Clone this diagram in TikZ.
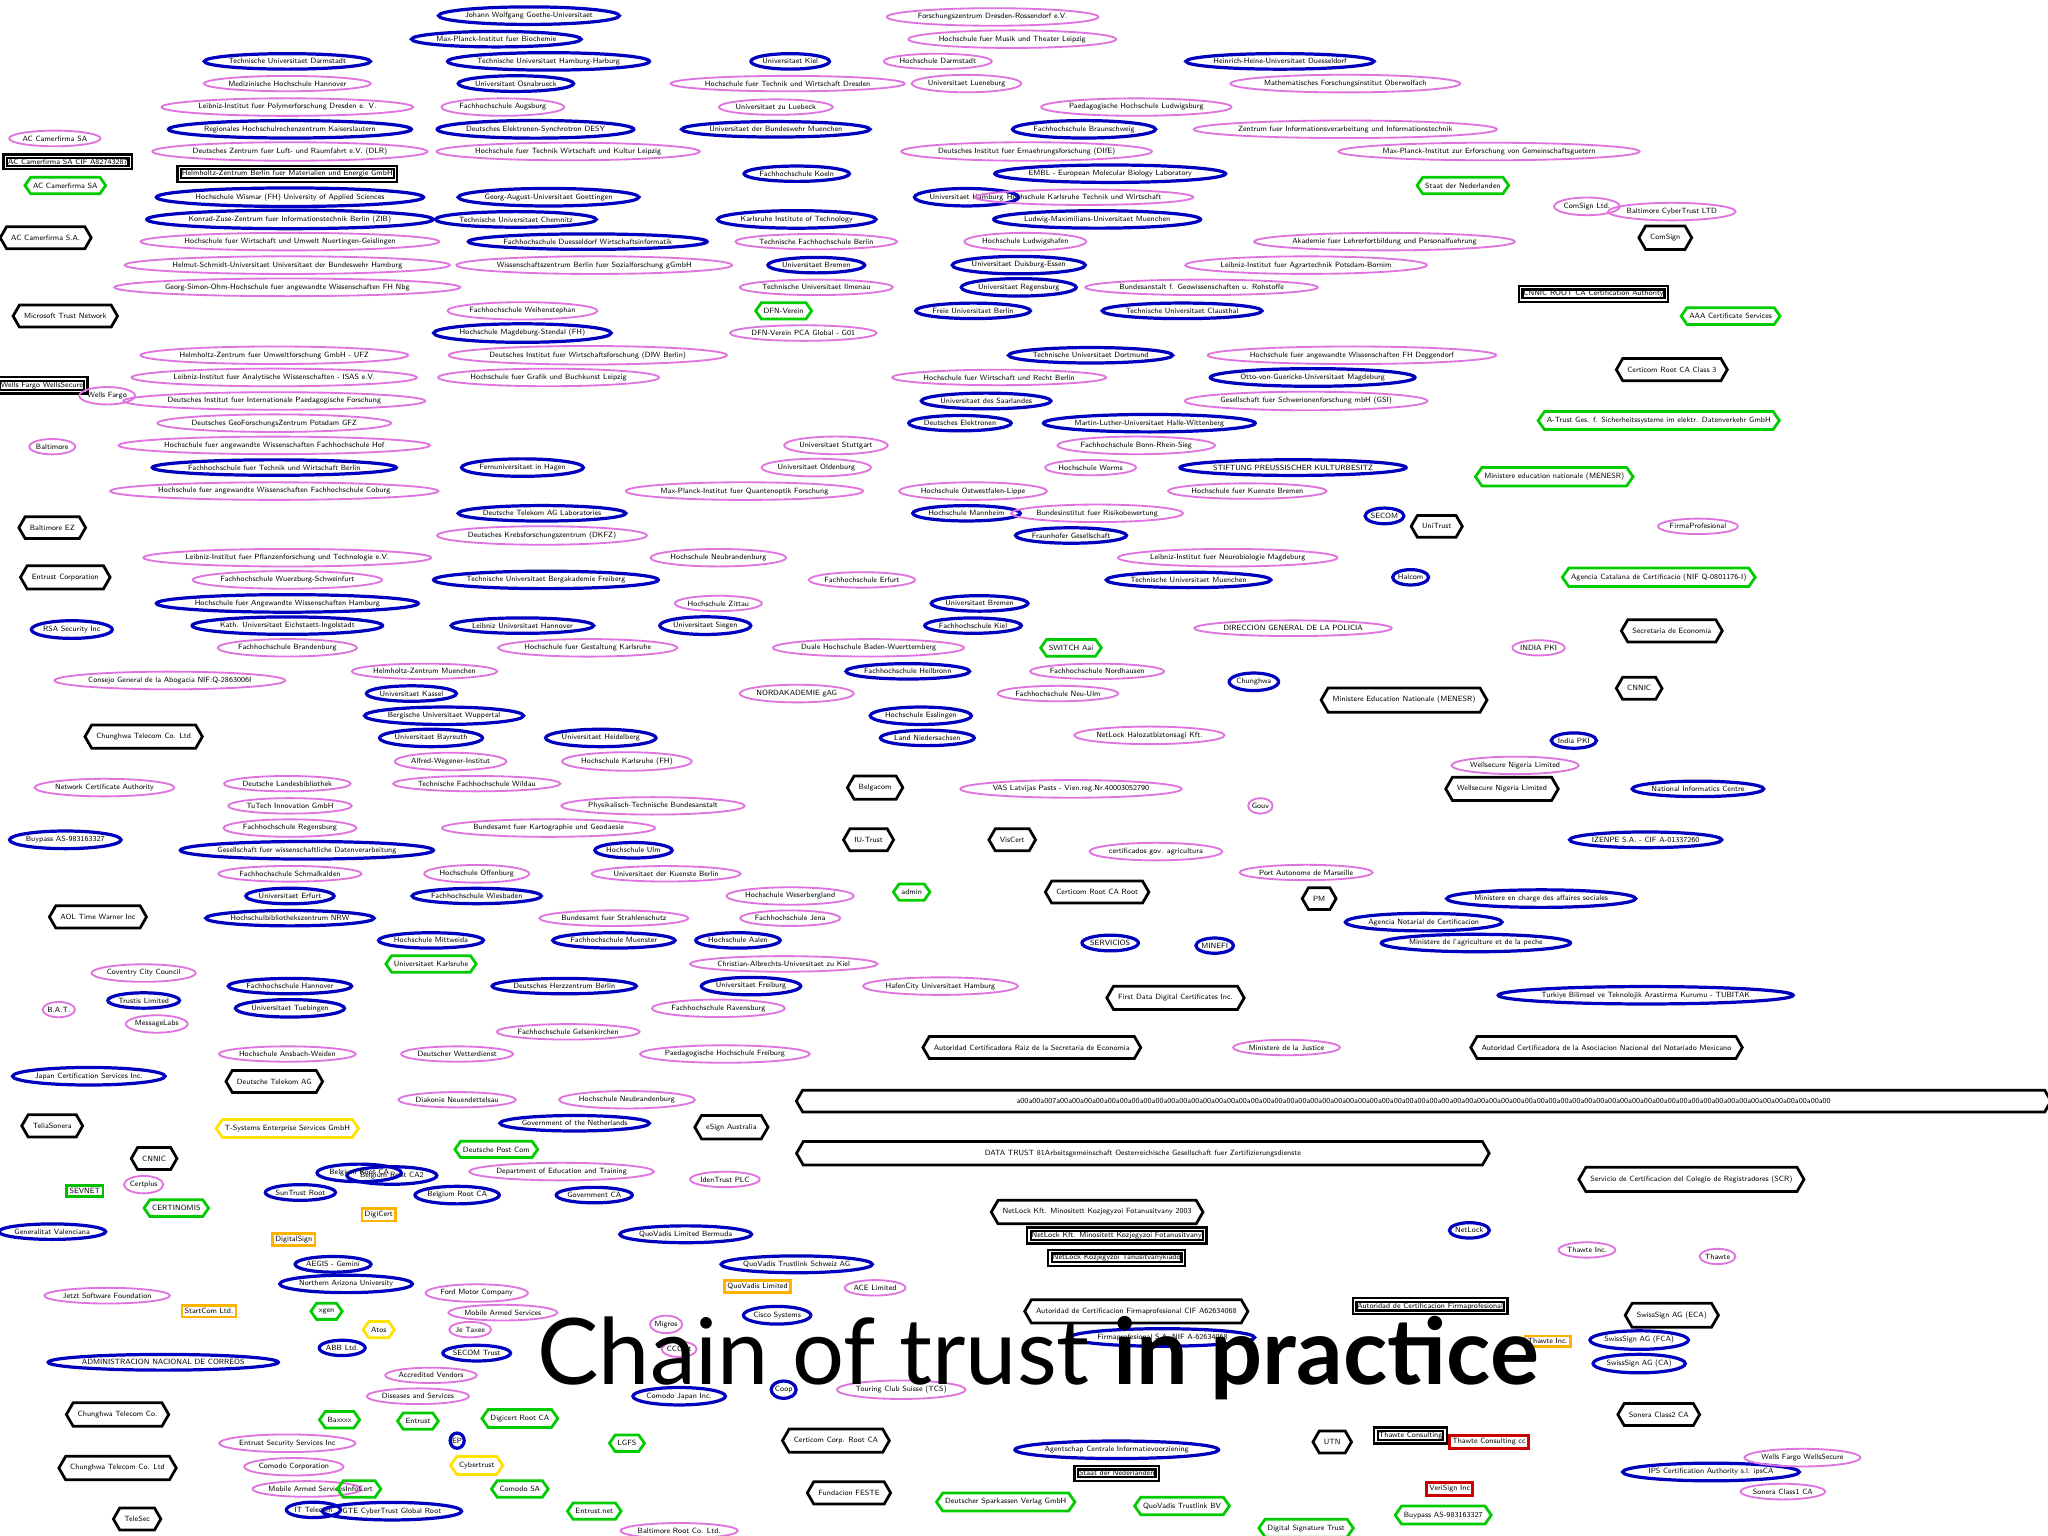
\documentclass[tikz,border=0pt]{standalone}
\usepackage{fontspec}
\newfontfamily\titlefont{Lato}
\usetikzlibrary{shapes.geometric,shapes.misc,shapes.symbols,backgrounds}
\tikzset{
 every node/.style={font=\fontsize{1.65}{2}\selectfont\sffamily, inner sep=0.6pt},
 pe/.style={ellipse, draw=violet!45!magenta!55, line width=0.4pt, inner xsep=0pt},
 be/.style={ellipse, draw=blue!75!black, line width=0.7pt, inner xsep=0pt},
 bh/.style={signal, signal to=west and east, signal pointer angle=120, draw=black, line width=0.6pt, inner ysep=1.8pt, inner xsep=1pt},
 gh/.style={signal, signal to=west and east, signal pointer angle=110, draw=green!80!black, line width=0.6pt, inner ysep=1.2pt, inner xsep=0.5pt},
 yh/.style={signal, signal to=west and east, signal pointer angle=110, draw=yellow!85!orange, line width=0.6pt, inner ysep=1.2pt, inner xsep=0.5pt},
 br/.style={rectangle, draw=black, line width=0.5pt, double, double distance=0.3pt},
 gr/.style={rectangle, draw=green!75!black, line width=0.6pt},
 yr/.style={rectangle, draw=orange!60!yellow, line width=0.6pt},
 rr/.style={rectangle, draw=red!80!black, line width=0.6pt},
 edge/.style={draw=gray!45, line width=0.4pt}
}
\begin{document}
\begin{tikzpicture}[x=0.01cm,y=-0.01cm]
\useasboundingbox (0,0) rectangle (1568,1176);
\fill[white] (0,0) rectangle (1568,1176);
\node[gh] (hub) at (600,238) {DFN-Verein};
\node[pe] (pca) at (615,255) {DFN-Verein PCA Global - G01};
\begin{pgfonlayer}{background}
\draw[edge] (hub) -- (pca);
\foreach \x in {420,480,540,560,600,640,660,700,740,800,860,900}{
 \coordinate (ray\x) at (\x,-10);
 \draw[edge] (hub) -- (ray\x);}
\end{pgfonlayer}
\foreach \x/\y/\s/\t [count=\i] in {
405/12/be/Johann Wolfgang Goethe-Universitaet, 380/30/be/Max-Planck-Institut fuer Biochemie,
220/47/be/Technische Universitaet Darmstadt, 420/47/be/Technische Universitaet Hamburg-Harburg,
605/47/be/Universitaet Kiel, 718/47/pe/Hochschule Darmstadt,
220/64/pe/Medizinische Hochschule Hannover, 395/64/be/Universitaet Osnabrueck,
603/64/pe/Hochschule fuer Technik und Wirtschaft Dresden, 220/82/pe/Leibniz-Institut fuer Polymerforschung Dresden e. V.,
385/82/pe/Fachhochschule Augsburg, 594/82/pe/Universitaet zu Luebeck,
222/99/be/Regionales Hochschulrechenzentrum Kaiserslautern, 410/99/be/Deutsches Elektronen-Synchrotron DESY,
594/99/be/Universitaet der Bundeswehr Muenchen, 830/99/be/Fachhochschule Braunschweig/Wolfenbuettel,
222/116/pe/Deutsches Zentrum fuer Luft- und Raumfahrt e.V. (DLR), 435/116/pe/Hochschule fuer Technik Wirtschaft und Kultur Leipzig,
786/116/pe/Deutsches Institut fuer Ernaehrungsforschung (DIfE), 222/151/be/Hochschule Wismar (FH) University of Applied Sciences,
420/151/be/Georg-August-Universitaet Goettingen, 610/133/be/Fachhochschule Koeln,
740/151/be/Universitaet Hamburg, 222/168/be/Konrad-Zuse-Zentrum fuer Informationstechnik Berlin (ZIB),
395/168/be/Technische Universitaet Chemnitz, 610/168/be/Karlsruhe Institute of Technology,
222/185/pe/Hochschule fuer Wirtschaft und Umwelt Nuertingen-Geislingen, 450/185/be/Fachhochschule Duesseldorf Wirtschaftsinformatik,
625/185/pe/Technische Fachhochschule Berlin, 220/203/pe/Helmut-Schmidt-Universitaet Universitaet der Bundeswehr Hamburg,
455/203/pe/Wissenschaftszentrum Berlin fuer Sozialforschung gGmbH, 625/203/be/Universitaet Bremen,
220/220/pe/Georg-Simon-Ohm-Hochschule fuer angewandte Wissenschaften FH Nbg, 625/220/pe/Technische Universitaet Ilmenau,
400/238/pe/Fachhochschule Weihenstephan, 400/255/be/Hochschule Magdeburg-Stendal (FH),
745/238/be/Freie Universitaet Berlin, 210/272/pe/Helmholtz-Zentrum fuer Umweltforschung GmbH - UFZ,
450/272/pe/Deutsches Institut fuer Wirtschaftsforschung (DIW Berlin), 210/289/pe/Leibniz-Institut fuer Analytische Wissenschaften - ISAS e.V.,
420/289/pe/Hochschule fuer Grafik und Buchkunst Leipzig, 765/289/pe/Hochschule fuer Wirtschaft und Recht Berlin,
210/307/pe/Deutsches Institut fuer Internationale Paedagogische Forschung, 755/307/be/Universitaet des Saarlandes,
210/324/pe/Deutsches GeoForschungsZentrum Potsdam GFZ, 735/324/be/Deutsches Elektronen,
210/341/pe/Hochschule fuer angewandte Wissenschaften Fachhochschule Hof, 640/341/pe/Universitaet Stuttgart,
210/358/be/Fachhochschule fuer Technik und Wirtschaft Berlin, 400/358/be/Fernuniversitaet in Hagen,
625/358/pe/Universitaet Oldenburg, 210/376/pe/Hochschule fuer angewandte Wissenschaften Fachhochschule Coburg,
570/376/pe/Max-Planck-Institut fuer Quantenoptik Forschung, 745/376/pe/Hochschule Ostwestfalen-Lippe,
415/393/be/Deutsche Telekom AG Laboratories, 740/393/be/Hochschule Mannheim,
415/410/pe/Deutsches Krebsforschungszentrum (DKFZ), 220/427/pe/Leibniz-Institut fuer Pflanzenforschung und Technologie e.V.,
550/427/pe/Hochschule Neubrandenburg, 220/444/pe/Fachhochschule Wuerzburg-Schweinfurt,
418/444/be/Technische Universitaet Bergakademie Freiberg, 660/444/pe/Fachhochschule Erfurt,
220/462/be/Hochschule fuer Angewandte Wissenschaften Hamburg, 550/462/pe/Hochschule Zittau/Goerlitz,
400/479/be/Leibniz Universitaet Hannover, 220/479/be/Kath. Universitaet Eichstaett-Ingolstadt,
540/479/be/Universitaet Siegen, 220/496/pe/Fachhochschule Brandenburg,
450/496/pe/Hochschule fuer Gestaltung Karlsruhe, 665/496/pe/Duale Hochschule Baden-Wuerttemberg,
325/514/pe/Helmholtz-Zentrum Muenchen, 695/514/be/Fachhochschule Heilbronn,
315/531/be/Universitaet Kassel, 610/531/pe/NORDAKADEMIE gAG,
340/548/be/Bergische Universitaet Wuppertal, 705/548/be/Hochschule Esslingen,
330/565/be/Universitaet Bayreuth, 460/565/be/Universitaet Heidelberg,
710/565/be/Land Niedersachsen, 345/583/pe/Alfred-Wegener-Institut,
480/583/pe/Hochschule Karlsruhe (FH), 220/600/pe/Deutsche Landesbibliothek,
365/600/pe/Technische Fachhochschule Wildau, 222/617/pe/TuTech Innovation GmbH,
500/617/pe/Physikalisch-Technische Bundesanstalt, 222/634/pe/Fachhochschule Regensburg,
420/634/pe/Bundesamt fuer Kartographie und Geodaesie, 235/651/be/Gesellschaft fuer wissenschaftliche Datenverarbeitung,
485/651/be/Hochschule Ulm, 222/669/pe/Fachhochschule Schmalkalden,
365/669/pe/Hochschule Offenburg, 510/669/pe/Universitaet der Kuenste Berlin,
222/686/be/Universitaet Erfurt, 365/686/be/Fachhochschule Wiesbaden,
605/686/pe/Hochschule Weserbergland, 222/703/be/Hochschulbibliothekszentrum NRW,
470/703/pe/Bundesamt fuer Strahlenschutz, 605/703/pe/Fachhochschule Jena,
330/720/be/Hochschule Mittweida, 470/720/be/Fachhochschule Muenster,
565/720/be/Hochschule Aalen, 330/738/gh/Universitaet Karlsruhe,
600/738/pe/Christian-Albrechts-Universitaet zu Kiel, 222/755/be/Fachhochschule Hannover,
432/755/be/Deutsches Herzzentrum Berlin, 575/755/be/Universitaet Freiburg,
222/772/be/Universitaet Tuebingen, 550/772/pe/Fachhochschule Ravensburg,
435/790/pe/Fachhochschule Gelsenkirchen, 220/807/pe/Hochschule Ansbach-Weiden,
350/807/pe/Deutscher Wetterdienst, 555/807/pe/Paedagogische Hochschule Freiburg,
350/842/pe/Diakonie Neuendettelsau, 480/842/pe/Hochschule Neubrandenburg,
720/755/pe/HafenCity Universitaet Hamburg, 780/203/be/Universitaet Duisburg-Essen,
780/220/be/Universitaet Regensburg, 785/185/pe/Hochschule Ludwigshafen,
840/168/be/Ludwig-Maximilians-Universitaet Muenchen, 830/151/pe/Hochschule Karlsruhe Technik und Wirtschaft,
850/133/be/EMBL - European Molecular Biology Laboratory, 870/82/pe/Paedagogische Hochschule Ludwigsburg,
740/64/pe/Universitaet Lueneburg, 760/13/pe/Forschungszentrum Dresden-Rossendorf e.V.,
775/30/pe/Hochschule fuer Musik und Theater Leipzig, 980/47/be/Heinrich-Heine-Universitaet Duesseldorf,
1030/64/pe/Mathematisches Forschungsinstitut Oberwolfach, 1030/99/pe/Zentrum fuer Informationsverarbeitung und Informationstechnik,
1140/116/pe/Max-Planck-Institut zur Erforschung von Gemeinschaftsguetern, 1060/185/pe/Akademie fuer Lehrerfortbildung und Personalfuehrung,
1000/203/pe/Leibniz-Institut fuer Agrartechnik Potsdam-Bornim, 920/220/pe/Bundesanstalt f. Geowissenschaften u. Rohstoffe,
905/238/be/Technische Universitaet Clausthal, 835/272/be/Technische Universitaet Dortmund,
1035/272/pe/Hochschule fuer angewandte Wissenschaften FH Deggendorf, 1005/289/be/Otto-von-Guericke-Universitaet Magdeburg,
1000/307/pe/Gesellschaft fuer Schwerionenforschung mbH (GSI), 880/324/be/Martin-Luther-Universitaet Halle-Wittenberg,
870/341/pe/Fachhochschule Bonn-Rhein-Sieg, 835/358/pe/Hochschule Worms,
990/358/be/STIFTUNG PREUSSISCHER KULTURBESITZ, 955/376/pe/Hochschule fuer Kuenste Bremen,
840/393/pe/Bundesinstitut fuer Risikobewertung, 820/410/be/Fraunhofer Gesellschaft,
940/427/pe/Leibniz-Institut fuer Neurobiologie Magdeburg, 910/444/be/Technische Universitaet Muenchen,
820/496/gh/SWITCH Aai/Root, 840/514/pe/Fachhochschule Nordhausen,
810/531/pe/Fachhochschule Neu-Ulm, 750/462/be/Universitaet Bremen,
745/479/be/Fachhochschule Kiel}{
 \node[\s] (h\i) at (\x,\y) {\t};
 \begin{pgfonlayer}{background}\draw[edge] (hub) -- (h\i);\end{pgfonlayer}
}
\foreach \x/\y/\s/\t [count=\i] in {
42/106/pe/AC Camerfirma SA, 52/124/br/AC Camerfirma SA CIF A82743287, 50/142/gh/AC Camerfirma SA,
35/182/bh/AC Camerfirma S.A., 220/133/br/Helmholtz-Zentrum Berlin fuer Materialien und Energie GmbH,
50/242/bh/Microsoft Trust Network, 32/295/br/Wells Fargo WellsSecure, 82/303/pe/Wells Fargo,
40/342/pe/Baltimore, 40/404/bh/Baltimore EZ, 50/442/bh/Entrust Corporation, 55/482/be/RSA Security Inc,
130/521/pe/Consejo General de la Abogacia NIF:Q-2863006I, 110/564/bh/Chunghwa Telecom Co. Ltd,
80/603/pe/Network Certificate Authority, 50/643/be/Buypass AS-983163327, 75/702/bh/AOL Time Warner Inc,
110/745/pe/Coventry City Council, 110/766/be/Trustis Limited, 45/773/pe/B.A.T., 120/784/pe/MessageLabs,
68/824/be/Japan Certification Services Inc., 210/828/bh/Deutsche Telekom AG, 40/862/bh/TeliaSonera,
220/864/yh/T-Systems Enterprise Services GmbH, 118/887/bh/CNNIC/IPS, 110/907/pe/Certplus, 65/912/gr/SEVNET,
135/925/gh/CERTINOMIS, 40/943/be/Generalitat Valenciana, 225/949/yr/DigitalSign, 82/992/pe/Jetzt Software Foundation,
160/1004/yr/StartCom Ltd., 125/1043/be/ADMINISTRACION NACIONAL DE CORREOS, 90/1083/bh/Chunghwa Telecom Co.,
90/1124/bh/Chunghwa Telecom Co. Ltd, 105/1163/bh/TeleSec, 220/1105/pe/Entrust Security Services Inc,
225/1123/pe/Comodo Corporation, 240/1156/be/IT Telecom, 1120/142/gh/Staat der Nederlanden,
1215/158/pe/ComSign Ltd., 1280/162/pe/Baltimore CyberTrust LTD, 1275/182/bh/ComSign, 1220/225/br/CNNIC ROOT CA Certification Authority,
1325/242/gh/AAA Certificate Services, 1280/283/bh/Certicom Root CA Class 3, 1270/322/gh/A-Trust Ges. f. Sicherheitssysteme im elektr. Datenverkehr GmbH,
1190/365/gh/Ministere education nationale (MENESR), 1060/395/be/SECOM, 1100/403/bh/UniTrust,
1300/403/pe/FirmaProfesional, 1080/442/be/Halcom, 1270/442/gh/Agencia Catalana de Certificacio (NIF Q-0801176-I),
990/481/pe/DIRECCION GENERAL DE LA POLICIA, 1280/483/bh/Secretaria de Economia, 1178/496/pe/INDIA PKI,
1255/527/bh/CNNIC, 960/522/be/Chunghwa, 1075/536/bh/Ministere Education Nationale (MENESR), 1205/567/be/India PKI,
1160/586/pe/Wellsecure Nigeria Limited, 1150/604/bh/Wellsecure Nigeria Limited, 1300/604/be/National Informatics Centre,
880/563/pe/NetLock Halozatbiztonsagi Kft., 965/617/pe/Gouv, 820/604/pe/VAS Latvijas Pasts - Vien.reg.Nr.40003052790,
670/603/bh/Belgacom, 665/643/bh/IU-Trust, 775/643/bh/VisCert, 885/652/pe/certificados gov. agricultura,
1260/643/be/IZENPE S.A. - CIF A-01337260, 1000/668/pe/Port Autonome de Marseille, 698/683/gh/admin,
840/683/bh/Certicom Root CA Root, 1010/688/bh/PM/SGDN, 1180/688/be/Ministere en charge des affaires sociales,
1090/706/be/Agencia Notarial de Certificacion, 850/722/be/SERVICIOS, 930/724/be/MINEFI,
1130/722/be/Ministere de l'agriculture et de la peche, 900/764/bh/First Data Digital Certificates Inc.,
1260/762/be/Turkiye Bilimsel ve Teknolojik Arastirma Kurumu - TUBITAK, 790/802/bh/Autoridad Certificadora Raiz de la Secretaria de Economia,
985/802/pe/Ministere de la Justice, 1230/802/bh/Autoridad Certificadora de la Asociacion Nacional del Notariado Mexicano,
1295/903/bh/Servicio de Certificacion del Colegio de Registradores (SCR), 840/928/bh/NetLock Kft. Minositett Kozjegyzoi Fotanusitvany 2003,
855/946/br/NetLock Kft. Minositett Kozjegyzoi Fotanusitvany, 855/963/br/NetLock Kozjegyzoi Tanusitvanykiado,
1125/942/be/NetLock, 1215/957/pe/Thawte Inc., 1315/962/pe/Thawte, 870/1004/bh/Autoridad de Certificacion Firmaprofesional CIF A62634068,
1095/1000/br/Autoridad de Certificacion Firmaprofesional, 1280/1007/bh/SwissSign AG (ECA), 1255/1026/be/SwissSign AG (FCA),
1255/1044/be/SwissSign AG (CA), 890/1024/be/Firmaprofesional S.A. NIF A-62634068, 1185/1027/yr/Thawte Inc.,
1270/1083/bh/Sonera Class2 CA, 1020/1104/bh/UTN, 1080/1099/br/Thawte Consulting, 1140/1104/rr/Thawte Consulting cc,
1110/1140/rr/VeriSign Inc, 1310/1127/be/IPS Certification Authority s.l. ipsCA, 855/1110/be/Agentschap Centrale Informatievoorziening,
855/1128/br/Staat der Nederlanden, 640/1103/bh/Certicom Corp. Root CA, 650/1143/bh/Fundacion FESTE,
770/1150/gh/Deutscher Sparkassen Verlag GmbH, 905/1153/gh/QuoVadis Trustlink BV, 1105/1160/gh/Buypass AS-983163327,
1000/1170/gh/Digital Signature Trust, 1365/1142/pe/Sonera Class1 CA, 1380/1116/pe/Wells Fargo WellsSecure,
300/900/be/Belgium Root CA2, 380/880/gh/Deutsche Post Com, 440/860/be/Government of the Netherlands,
350/915/be/Belgium Root CA, 455/915/be/Government CA, 430/897/pe/Department of Education and Training,
560/863/bh/eSign Australia, 555/903/pe/IdenTrust PLC, 525/945/be/QuoVadis Limited Bermuda,
610/968/be/QuoVadis Trustlink Schweiz AG, 580/985/yr/QuoVadis Limited, 670/986/pe/ACE Limited,
595/1007/be/Cisco Systems, 510/1014/pe/Migros, 520/1033/pe/CCCert, 600/1064/be/Coop,
520/1069/be/Comodo Japan Inc., 690/1064/pe/Touring Club Suisse (TCS), 385/1005/pe/Mobile Armed Services,
360/1018/pe/Je Taxee, 365/1036/be/SECOM Trust, 330/1053/pe/Accredited Vendors,
320/1069/pe/Diseases and Services, 265/983/be/Northern Arizona University, 255/968/be/AEGIS - Gemini,
262/1032/be/ABB Ltd., 260/1087/gh/Baxxxx, 320/1088/gh/Entrust, 398/1086/gh/Digicert Root CA,
350/1103/be/EP, 365/1122/yh/Cybertrust, 398/1140/gh/Comodo SA, 300/1157/be/GTE CyberTrust Global Root,
455/1157/gh/Entrust.net, 480/1105/gh/LGFS, 520/1172/pe/Baltimore Root Co. Ltd.,
365/990/pe/Ford Motor Company, 250/1004/gh/xgen, 290/1018/yh/Atos, 235/1140/pe/Mobile Armed Services,
275/1140/gh/InfoCert, 290/930/yr/DigiCert, 275/898/be/Belgium Root CA, 230/913/be/SunTrust Root}{
 \node[\s] (o\i) at (\x,\y) {\t};
}
\node[bh, minimum width=9.6cm] (long1) at (1090,843) {a00a00a007a00a00a00a00a00a00a00a00a00a00a00a00a00a00a00a00a00a00a00a00a00a00a00a00a00a00a00a00a00a00a00a00a00a00a00a00a00a00a00a00a00a00a00a00a00a00a00a00a00a00a00a00a00a00a00a00a00a00a00a00a00a00a00a00a00};
\node[bh, minimum width=5.3cm] (long2) at (875,883) {DATA TRUST 81Arbeitsgemeinschaft Oesterreichische Gesellschaft fuer Zertifizierungsdienste};
\begin{pgfonlayer}{background}
\draw[edge] (o57) -- (o58); \draw[edge] (o59) -- (o60);
\draw[edge] (o62) -- (o57); \draw[edge] (o63) -- (o64);
\draw[edge] (o70) -- (o73); \draw[edge] (o73) -- (o80);
\draw[edge] (o75) -- (o70); \draw[edge] (o71) -- (o76);
\draw[edge] (o71) -- (o78); \draw[edge] (o73) -- (o82);
\draw[edge] (o93) -- (o98); \draw[edge] (o96) -- (o101);
\draw[edge] (o18) -- (o19); \draw[edge] (o20) -- (o19); \draw[edge] (o21) -- (o19);
\draw[edge] (o26) -- (o27); \draw[edge] (o27) -- (o29);
\draw[edge] (o31) -- (o146); \draw[edge] (o31) -- (o147); \draw[edge] (o31) -- (o33);
\draw[edge] (o31) -- (o137); \draw[edge] (o31) -- (o140);
\draw[edge] (o137) -- (o140); \draw[edge] (o138) -- (o144);
\draw[edge] (o6) -- (o4); \draw[edge] (o7) -- (o8);
\draw[edge] (o113) -- (o112); \draw[edge] (o118) -- (o119);
\draw[edge] (o124) -- (o125); \draw[edge] (o121) -- (o131);
\draw[edge] (o103) -- (o104); \draw[edge] (o109) -- (o104);
\draw[edge] (o46) -- (o47); \draw[edge] (o55) -- (o56);
\end{pgfonlayer}
\node[font=\titlefont\fontsize{20}{24}\selectfont, inner sep=0pt] (title) at (795,1040) {Chain of trust \textbf{in practice}};
\end{tikzpicture}
\end{document}
